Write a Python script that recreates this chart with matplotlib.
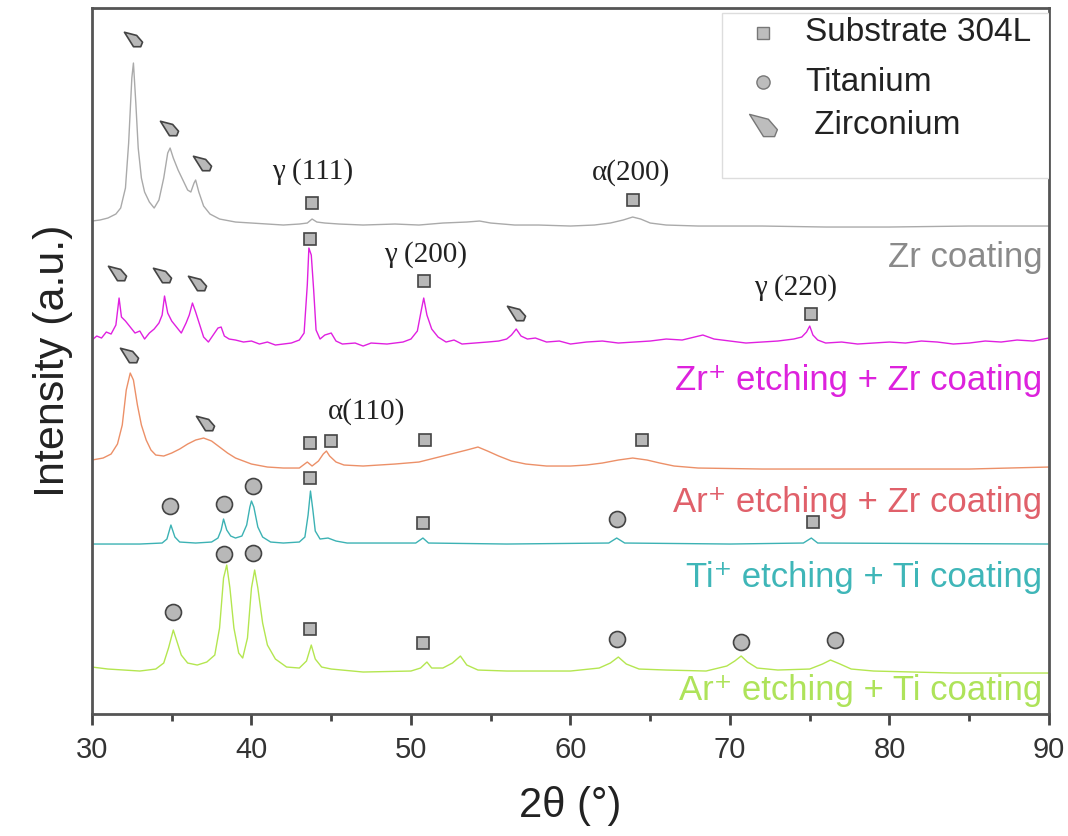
import numpy as np
import matplotlib.pyplot as plt
from matplotlib.path import Path
from matplotlib.patches import Rectangle


# 2theta / intensity points (a.u., relative to each trace baseline)
zr_x = [30.0, 30.5, 31.0, 31.5, 31.8, 32.1, 32.3, 32.5, 32.6, 32.75, 32.9, 33.1, 33.3, 33.6,
        33.9, 34.2, 34.5, 34.75, 34.9, 35.1, 35.4, 35.7, 36.0, 36.2, 36.4, 36.5, 36.7, 37.0,
        37.4, 38.0, 39.0, 40.0, 41.0, 42.0, 43.0, 43.5, 43.8, 44.1, 44.6, 45.5, 47.0, 49.0,
        50.5, 52.0, 53.5, 54.3, 55.0, 56.5, 58.0, 60.0, 61.5, 62.5, 63.3, 63.9, 64.4, 65.0,
        66.0, 68.0, 72.0, 76.0, 80.0, 85.0, 90.0]
zr_y = [7, 8, 10, 14, 20, 40, 85, 150, 165, 125, 80, 50, 36, 26,
        20, 28, 50, 75, 80, 70, 58, 48, 38, 36, 45, 48, 36, 22,
        14, 9, 6, 5, 4, 3, 4, 5, 9, 6, 5, 4, 3, 4,
        3, 5, 6, 7, 5, 3, 3, 2, 3, 5, 8, 11, 9, 5,
        3, 2, 2, 1, 1, 2, 2]

zrzr_x = [30.0, 30.3, 30.6, 30.9, 31.2, 31.5, 31.7, 31.85, 32.1, 32.4, 32.7, 33.0, 33.3, 33.6,
          33.9, 34.2, 34.4, 34.55, 34.75, 35.0, 35.3, 35.6, 35.9, 36.1, 36.3, 36.5, 36.8, 37.0,
          37.3, 37.6, 37.9, 38.1, 38.3, 38.6, 39.0, 39.5, 40.0, 40.5, 41.0, 41.5, 42.0, 42.5,
          43.0, 43.3, 43.5, 43.6, 43.75, 43.9, 44.05, 44.3, 44.6, 45.0, 45.3, 45.7, 46.5, 47.0,
          47.5, 48.5, 49.5, 50.0, 50.4, 50.65, 50.8, 51.0, 51.3, 51.7, 52.2, 52.7, 53.2, 54.0,
          54.8, 55.5, 56.0, 56.3, 56.6, 56.9, 57.3, 57.8, 58.5, 59.3, 60.0, 61.0, 62.0, 63.0,
          64.0, 65.0, 66.0, 67.0, 68.3, 69.0, 70.0, 71.0, 72.0, 73.0, 74.0, 74.5, 74.8, 75.0,
          75.2, 75.5, 76.0, 77.0, 78.0, 79.0, 80.0, 81.0, 82.0, 83.0, 84.0, 85.0, 86.0, 87.0,
          88.0, 89.0, 90.0]
zrzr_y = [5, 9, 7, 13, 11, 20, 47, 28, 24, 18, 12, 14, 6, 12,
          16, 22, 30, 49, 32, 24, 18, 12, 22, 30, 42, 33, 18, 8,
          3, 10, 17, 18, 9, 6, 5, 3, 4, 1, 3, 0, 1, 2,
          5, 12, 60, 97, 90, 55, 15, 6, 10, 12, 4, 1, 2, -1,
          2, 1, 3, 6, 14, 35, 47, 30, 16, 8, 3, 5, 1, 2,
          3, 4, 6, 10, 16, 9, 6, 7, 3, 4, 1, 3, 4, 2,
          3, 4, 6, 5, 10, 6, 4, 2, 3, 4, 6, 8, 13, 19,
          10, 5, 2, 3, 1, 2, 3, 2, 4, 3, 1, 2, 4, 3,
          5, 4, 7]

arzr_x = [30.0, 30.7, 31.2, 31.6, 31.9, 32.15, 32.4, 32.6, 32.85, 33.1, 33.4, 33.7, 34.0, 34.5,
          35.0, 35.5, 36.0, 36.5, 37.0, 37.5, 38.0, 38.5, 39.0, 39.5, 40.0, 41.0, 42.0, 43.0,
          43.5, 43.8, 44.2, 44.5, 44.7, 44.9, 45.3, 45.8, 47.0, 49.0, 50.5, 51.5, 52.5, 53.5,
          54.2, 54.8, 55.5, 56.3, 57.2, 58.5, 60.0, 61.0, 62.0, 63.0, 63.9, 64.8, 65.6, 66.5,
          68.0, 72.0, 78.0, 85.0, 90.0]
arzr_y = [10, 12, 16, 26, 45, 80, 97, 90, 65, 45, 30, 20, 15, 14,
          17, 21, 26, 30, 32, 29, 23, 17, 12, 9, 6, 3, 2, 2,
          8, 4, 9, 16, 19, 14, 8, 5, 4, 6, 8, 12, 16, 20,
          23, 19, 14, 9, 6, 4, 4, 5, 7, 10, 12, 10, 7, 4,
          2, 1, 1, 1, 3]

titi_x = [30.0, 33.0, 34.4, 34.7, 34.95, 35.2, 35.5, 36.5, 37.5, 37.9, 38.1, 38.25, 38.45, 38.7,
          39.0, 39.4, 39.7, 39.9, 40.0, 40.15, 40.4, 40.7, 41.2, 42.0, 43.0, 43.35, 43.55, 43.7,
          43.85, 44.0, 44.3, 44.8, 45.3, 46.0, 50.3, 50.75, 51.1, 56.0, 62.4, 62.9, 63.4, 70.0,
          74.6, 75.1, 75.5, 90.0]
titi_y = [1, 1, 2, 6, 20, 8, 3, 2, 3, 7, 15, 26, 15, 9,
          7, 9, 20, 38, 44, 38, 18, 8, 3, 2, 3, 8, 30, 54,
          35, 14, 6, 7, 4, 2, 2, 7, 2, 1, 2, 7, 2, 1,
          2, 7, 2, 1]

arti_x = [30.0, 31.0, 32.0, 33.0, 34.0, 34.5, 34.8, 35.1, 35.3, 35.6, 36.0, 36.6, 37.2, 37.7,
          38.0, 38.25, 38.45, 38.65, 38.9, 39.2, 39.45, 39.75, 40.0, 40.2, 40.4, 40.7, 41.0, 41.5,
          42.2, 43.0, 43.45, 43.75, 44.0, 44.4, 45.0, 47.0, 50.0, 50.6, 51.0, 51.3, 52.0, 52.6,
          53.1, 53.5, 54.2, 56.0, 60.0, 61.8, 62.5, 63.0, 63.5, 64.3, 66.0, 68.5, 69.8, 70.3,
          70.7, 71.1, 71.7, 73.0, 75.0, 75.8, 76.3, 76.9, 77.6, 79.0, 84.0, 90.0]
arti_y = [6, 4, 3, 2, 4, 10, 25, 43, 33, 18, 10, 8, 11, 18,
          45, 95, 108, 85, 45, 20, 15, 35, 85, 103, 85, 50, 28, 14,
          6, 5, 12, 28, 14, 6, 4, 1, 2, 5, 11, 5, 5, 10,
          17, 8, 3, 2, 2, 5, 10, 16, 9, 4, 3, 2, 7, 12,
          17, 11, 5, 3, 4, 9, 13, 9, 4, 2, 0, 0]

samples = ['Zr coating', 'Zr⁺ etching + Zr coating', 'Ar⁺ etching + Zr coating',
           'Ti⁺ etching + Ti coating', 'Ar⁺ etching + Ti coating']
offsets = [486, 369, 244, 169, 41]
label_y = [457, 334, 212, 137, 24]
line_colors = ['#aaaaaa', '#e020e0', '#ec9068', '#3cb2b4', '#b4e650']
text_colors = ['#8a8a8a', '#dd22dd', '#e0606a', '#3fb6b8', '#aee35a']

# phase markers: (2theta, height)
sub_x = [43.8, 63.9, 43.7, 50.8, 75.1, 43.7, 45.0, 50.9, 64.5, 43.7, 50.75, 75.2, 43.7, 50.75]
sub_y = [511, 514, 475, 433, 400, 271, 273, 274, 274, 236, 191, 192, 85, 71]
ti_x = [34.9, 38.3, 40.1, 62.9, 35.1, 38.3, 40.1, 62.9, 70.7, 76.6]
ti_y = [208, 210, 228, 195, 102, 160, 161, 75, 72, 74]
zrm_x = [32.6, 34.8, 36.9, 31.6, 34.4, 36.6, 56.6, 32.3, 37.1]
zrm_y = [675, 586, 551, 441, 439, 431, 401, 359, 291]

peak_names = ['γ (111)', 'α(200)', 'γ (200)', 'γ (220)', 'α(110)']
peak_x = [43.85, 63.8, 50.9, 74.1, 47.2]
peak_y = [542, 541, 459, 426, 302]

legend_names = ['Substrate 304L', 'Titanium', ' Zirconium']

# odd little pentagon used for the Zr phase
zr_marker = Path([(-1.0, 0.8), (0.35, 0.45), (1.0, -0.3), (0.8, -0.8), (0.0, -0.8), (-1.0, 0.8)],
                 [Path.MOVETO, Path.LINETO, Path.LINETO, Path.LINETO, Path.LINETO, Path.CLOSEPOLY])

fig = plt.figure(figsize=(10.68, 8.36), dpi=100)
ax = fig.add_axes([0.0861, 0.1459, 0.8961, 0.8445])

traces = [(zr_x, zr_y), (zrzr_x, zrzr_y), (arzr_x, arzr_y), (titi_x, titi_y), (arti_x, arti_y)]
for (tx, ty), off, c in zip(traces, offsets, line_colors):
    ax.plot(tx, np.array(ty) + off, color=c, lw=1.0)

for name, ly, c in zip(samples, label_y, text_colors):
    ax.text(89.6, ly, name, color=c, fontsize=25, ha='right', va='center',
            family=['Liberation Sans', 'DejaVu Sans'])

mk = dict(linestyle='none', markerfacecolor='#b8b8b8', markeredgecolor='#444444', markeredgewidth=1.2)
ax.plot(sub_x, sub_y, marker='s', markersize=8.5, **mk)
ax.plot(ti_x, ti_y, marker='o', markersize=11.5, **mk)
ax.plot(zrm_x, zrm_y, marker=zr_marker, markersize=13, **mk)

for name, px, py in zip(peak_names, peak_x, peak_y):
    ax.text(px, py, name, fontsize=21, ha='center', va='center', color='#222222',
            family=['Liberation Serif', 'DejaVu Serif'])

# legend box, drawn by hand so the padding matches
ax.add_patch(Rectangle((0.658, 0.759), 0.342, 0.234, transform=ax.transAxes,
                       facecolor='white', edgecolor='#dddddd', lw=1.0, zorder=3))
leg_y = [0.965, 0.895, 0.834]
leg_marks = [('s', 9), ('o', 9.5), (zr_marker, 20)]
for name, yy, (m, ms) in zip(legend_names, leg_y, leg_marks):
    ax.plot([0.701], [yy], transform=ax.transAxes, marker=m, markersize=ms, zorder=4,
            linestyle='none', markerfacecolor='#bdbdbd', markeredgecolor='#777777', markeredgewidth=1.0)
    ax.text(0.745, yy, name, transform=ax.transAxes, fontsize=24, va='center', ha='left',
            color='#222222', family='Liberation Sans', zorder=4)

ax.set_xlim(30, 90)
ax.set_ylim(0, 706)
ax.set_xticks(np.arange(30, 91, 10))
ax.set_xticks(np.arange(35, 90, 10), minor=True)
ax.set_yticks([])
ax.tick_params(axis='x', which='major', direction='out', length=8, width=2, color='#444444',
               labelsize=21, pad=8)
ax.tick_params(axis='x', which='minor', direction='out', length=5, width=2, color='#444444')
for lbl in ax.get_xticklabels():
    lbl.set_family('Liberation Sans')
    lbl.set_color('#333333')
for s in ax.spines.values():
    s.set_color('#555555')
    s.set_linewidth(2)

ax.set_xlabel('2θ (°)', fontsize=30, family='Liberation Sans', color='#222222', labelpad=16)
ax.set_ylabel('Intensity (a.u.)', fontsize=31, family='Liberation Sans', color='#222222',
              labelpad=14)

fig.savefig('out.png', dpi=100)
